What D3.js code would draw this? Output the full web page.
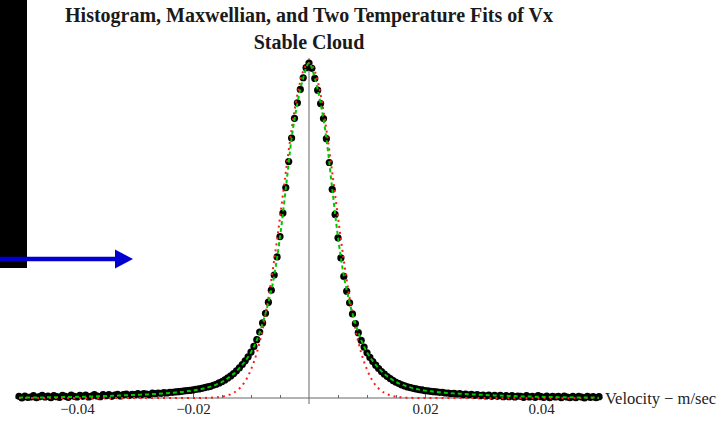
<!DOCTYPE html>
<html>
<head>
<meta charset="utf-8">
<script src="https://cdn.jsdelivr.net/npm/d3@7"></script>
<style>
  body { margin: 0; background: #fff; }
  svg { display: block; }
</style>
</head>
<body>
<div class="chart"></div>
<script>
// histogram of Vx (relative counts, peak = 100), bins every 0.0005 m/sec from -0.05 to 0.05
var histCounts = [
  0.5, 0.0, 0.6, 0.2, 0.3, 0.7, 0.1, 0.4, 0.8, 0.3,
  0.6, 0.1, 0.7, 0.4, 0.2, 0.8, 0.5, 0.2, 0.9, 0.5,
  0.3, 0.8, 0.5, 0.9, 0.3, 0.6, 1.0, 0.6, 0.4, 1.0,
  0.7, 1.0, 0.5, 0.9, 1.1, 0.6, 1.0, 1.2, 0.8, 1.1,
  1.0, 1.3, 0.9, 1.3, 1.2, 1.0, 1.5, 1.3, 1.5, 1.4,
  1.6, 1.5, 1.7, 1.7, 1.8, 1.9, 2.0, 2.1, 2.2, 2.3,
  2.4, 2.6, 2.7, 2.9, 3.1, 3.3, 3.5, 3.8, 4.1, 4.5,
  4.9, 5.4, 6.0, 6.6, 7.3, 8.1, 9.0, 10.0, 11.1, 12.3,
  13.7, 15.4, 17.4, 19.7, 22.4, 25.3, 28.6, 32.2, 36.7, 42.1,
  48.2, 55.2, 62.8, 70.6, 77.6, 83.5, 88.1, 92.1, 95.6, 98.6,
  100,
  98.4, 95.4, 91.9, 87.9, 83.4, 77.4, 70.3, 62.3, 54.8, 47.8,
  41.8, 36.3, 31.9, 28.4, 25.1, 22.2, 19.5, 17.2, 15.2, 13.5,
  12.1, 10.9, 9.8, 8.8, 7.9, 7.1, 6.4, 5.8, 5.2, 4.7,
  4.3, 3.9, 3.6, 3.3, 3.1, 2.9, 2.7, 2.5, 2.4, 2.2,
  2.1, 2.0, 1.9, 1.8, 1.7, 1.7, 1.5, 1.5, 1.3, 1.4,
  1.2, 1.3, 1.0, 1.2, 0.9, 1.1, 0.8, 1.0, 0.7, 0.9,
  0.6, 0.9, 0.5, 0.8, 0.5, 0.8, 0.4, 0.7, 0.4, 0.7,
  0.3, 0.6, 0.5, 0.2, 0.7, 0.3, 0.5, 0.2, 0.7, 0.4,
  0.2, 0.6, 0.1, 0.5, 0.3, 0.5, 0.1, 0.6, 0.3, 0.1,
  0.5, 0.1, 0.5, 0.3, 0.0, 0.5, 0.2, 0.4, 0.1, 0.4
];

// fit curves, sampled every 0.001 m/sec from -0.05 to 0.05
var twoTempFit = [
  0.11, 0.12, 0.14, 0.16, 0.18, 0.2, 0.22, 0.25, 0.28, 0.31,
  0.35, 0.39, 0.43, 0.48, 0.53, 0.59, 0.65, 0.71, 0.78, 0.85,
  0.93, 1.0, 1.08, 1.17, 1.27, 1.38, 1.5, 1.65, 1.8, 2.0,
  2.2, 2.5, 2.9, 3.4, 4.0, 4.8, 5.9, 7.2, 8.9, 11,
  13.6, 17.3, 22.3, 28.5, 36.5, 48, 62.5, 77.5, 88, 95.5,
  100,
  95.5, 88, 77.5, 62.5, 48, 36.5, 28.5, 22.3, 17.3, 13.6,
  11, 8.9, 7.2, 5.9, 4.8, 4.0, 3.4, 2.9, 2.5, 2.2,
  2.0, 1.8, 1.65, 1.5, 1.38, 1.27, 1.17, 1.08, 1.0, 0.93,
  0.85, 0.78, 0.71, 0.65, 0.59, 0.53, 0.48, 0.43, 0.39, 0.35,
  0.31, 0.28, 0.25, 0.22, 0.2, 0.18, 0.16, 0.14, 0.12, 0.11
];

var maxwellFit = [
  0, 0, 0, 0, 0, 0, 0, 0, 0, 0,
  0, 0, 0, 0, 0, 0, 0, 0, 0, 0,
  0, 0, 0, 0, 0, 0, 0, 0, 0, 0,
  0, 0.01, 0.03, 0.08, 0.18, 0.39, 0.79, 1.54, 2.85, 5.0,
  8.5, 13.5, 20.6, 29.8, 41.1, 53.9, 67.4, 80.1, 90.6, 97.6,
  100,
  97.6, 90.6, 80.1, 67.4, 53.9, 41.1, 29.8, 20.6, 13.5, 8.5,
  5.0, 2.85, 1.54, 0.79, 0.39, 0.18, 0.08, 0.03, 0.01, 0,
  0, 0, 0, 0, 0, 0, 0, 0, 0, 0,
  0, 0, 0, 0, 0, 0, 0, 0, 0, 0,
  0, 0, 0, 0, 0, 0, 0, 0, 0, 0
];

var majorTicks = [-0.04, -0.02, 0.02, 0.04];
var minorTicks = [-0.05, -0.045, -0.035, -0.03, -0.025, -0.015, -0.01, -0.005,
                  0.005, 0.01, 0.015, 0.025, 0.03, 0.035, 0.045, 0.05];
var titleLines = ["Histogram, Maxwellian, and Two Temperature Fits of Vx", "Stable Cloud"];
var xAxisLabel = "Velocity \u2212 m/sec";

// bin centres and fit sample positions
var histVel = d3.range(-100, 101).map(i => i * 0.0005);
var fitVel = d3.range(-50, 51).map(i => i * 0.001);

var svgWidth = 724;
var svgHeight = 422;

var svg = d3.select(".chart")
  .append("svg")
  .attr("width", svgWidth)
  .attr("height", svgHeight);

var xScale = d3.scaleLinear().domain([-0.05, 0.05]).range([19, 599]);
var yScale = d3.scaleLinear().domain([0, 100]).range([398, 63]);
var axisY = yScale(0);

// black bar + blue arrow on the left
svg.append("rect")
  .attr("x", 0).attr("y", 0)
  .attr("width", 27).attr("height", 268)
  .attr("fill", "#000");

svg.append("line")
  .attr("x1", 0).attr("x2", 117)
  .attr("y1", 259).attr("y2", 259)
  .attr("stroke", "#0000d0")
  .attr("stroke-width", 4.5);

svg.append("path")
  .attr("d", "M115,249.5 L133,259 L115,268.5 Z")
  .attr("fill", "#0000d0");

// titles
svg.selectAll("text.title")
  .data(titleLines)
  .enter()
  .append("text")
  .attr("class", "title")
  .attr("x", xScale(0))
  .attr("y", (d, i) => 22 + i * 27)
  .attr("text-anchor", "middle")
  .attr("font-family", "Liberation Serif, Times New Roman, serif")
  .attr("font-weight", "bold")
  .attr("font-size", "20px")
  .attr("fill", "#1a1a1a")
  .text(d => d);

// axes
svg.append("line")
  .attr("x1", 15).attr("x2", 603)
  .attr("y1", axisY).attr("y2", axisY)
  .attr("stroke", "#666").attr("stroke-width", 1);

svg.append("line")
  .attr("x1", xScale(0)).attr("x2", xScale(0))
  .attr("y1", 58).attr("y2", axisY + 6)
  .attr("stroke", "#666").attr("stroke-width", 1);

var minorAxis = svg.append("g")
  .attr("transform", `translate(0, ${axisY})`)
  .call(d3.axisBottom(xScale).tickValues(minorTicks).tickSizeInner(-3).tickSizeOuter(0).tickFormat(""));

var majorAxis = svg.append("g")
  .attr("transform", `translate(0, ${axisY})`)
  .call(d3.axisBottom(xScale).tickValues(majorTicks).tickSizeInner(-5).tickSizeOuter(0)
    .tickPadding(5).tickFormat(d3.format(".2f")));

svg.selectAll(".domain").remove();
svg.selectAll(".tick line").attr("stroke", "#666");
majorAxis.selectAll("text")
  .attr("font-family", "Liberation Serif, Times New Roman, serif")
  .attr("font-size", "15px")
  .attr("fill", "#222");

svg.append("text")
  .attr("x", 605)
  .attr("y", axisY + 6)
  .attr("font-family", "Liberation Serif, Times New Roman, serif")
  .attr("font-size", "16.5px")
  .attr("fill", "#222")
  .text(xAxisLabel);

// histogram points
svg.append("g")
  .selectAll("circle")
  .data(histCounts)
  .enter()
  .append("circle")
  .attr("cx", (d, i) => xScale(histVel[i]))
  .attr("cy", d => yScale(d))
  .attr("r", 3.6)
  .attr("fill", "#000");

var fitLine = d3.line()
  .x((d, i) => xScale(fitVel[i]))
  .y(d => yScale(d))
  .curve(d3.curveMonotoneX);

// Maxwellian fit (red dotted)
svg.append("path")
  .datum(maxwellFit)
  .attr("d", fitLine)
  .attr("fill", "none")
  .attr("stroke", "#ff1a1a")
  .attr("stroke-width", 2)
  .attr("stroke-dasharray", "2,4");

// two temperature fit (green dashed)
svg.append("path")
  .datum(twoTempFit)
  .attr("d", fitLine)
  .attr("fill", "none")
  .attr("stroke", "#00c800")
  .attr("stroke-width", 2)
  .attr("stroke-dasharray", "4,3");
</script>
</body>
</html>
